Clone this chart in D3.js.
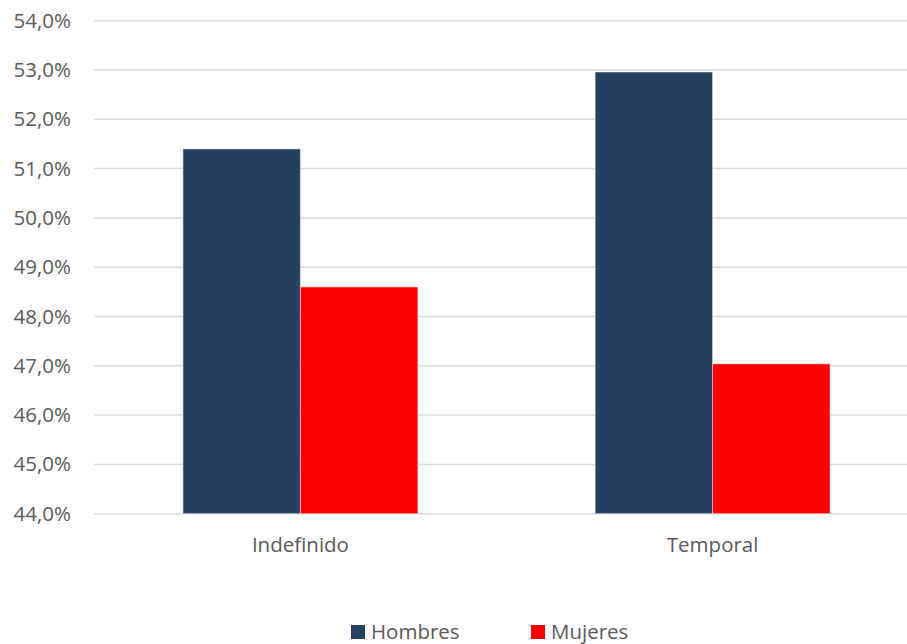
<!DOCTYPE html>
<html>
<head>
<meta charset="utf-8">
<script src="https://cdn.jsdelivr.net/npm/d3@7"></script>
<style>
  html, body { margin: 0; padding: 0; background: #fff; }
  svg { display: block; }
  text { font-family: "Open Sans", sans-serif; fill: #595959; }
</style>
</head>
<body>
<svg id="chart" width="907" height="644"></svg>
<script>
const categories = ["Indefinido", "Temporal"];
const seriesNames = ["Hombres", "Mujeres"];
const hombres = [0.514, 0.5296];
const mujeres = [0.486, 0.4704];
const yTicks = [0.44, 0.45, 0.46, 0.47, 0.48, 0.49, 0.50, 0.51, 0.52, 0.53, 0.54];
const colors = ["#264061", "#FF0000"];

const svg = d3.select("#chart");
const W = 907, H = 644;
const plotLeft = 94.3, plotRight = 918.7, plotTop = 20.7, plotBottom = 513.7;
const fontSize = "20.5px";

const x = d3.scaleBand().domain(categories).range([plotLeft, plotRight])
  .paddingInner(0.43).paddingOuter(0.215);
const xs = d3.scaleBand().domain(seriesNames).range([0, x.bandwidth()]);
const y = d3.scaleLinear().domain([0.44, 0.54]).range([plotBottom, plotTop]);
const fmt = v => d3.format(".1f")(v * 100).replace(".", ",") + "%";

// gridlines
svg.append("g").selectAll("line").data(yTicks).join("line")
  .attr("x1", plotLeft).attr("x2", W)
  .attr("y1", d => y(d)).attr("y2", d => y(d))
  .attr("stroke", "#d9d9d9").attr("stroke-width", 1.5);

// y axis labels
const yAxis = d3.axisLeft(y).tickValues(yTicks).tickFormat(fmt).tickSize(0).tickPadding(0);
const yg = svg.append("g").attr("transform", `translate(71,0)`).call(yAxis);
yg.select(".domain").remove();
yg.selectAll("text").style("font-size", fontSize).attr("fill", "#595959")
  .style("font-family", "'Open Sans', sans-serif");

// bars
const data = categories.map((c, i) => ({ cat: c, vals: [hombres[i], mujeres[i]] }));
const groups = svg.append("g").selectAll("g").data(data).join("g")
  .attr("transform", d => `translate(${x(d.cat)},0)`);
groups.selectAll("rect").data(d => d.vals.map((v, j) => ({ s: seriesNames[j], v, j })))
  .join("rect")
  .attr("x", d => xs(d.s))
  .attr("width", xs.bandwidth())
  .attr("y", d => y(d.v))
  .attr("height", d => plotBottom - y(d.v))
  .attr("fill", d => colors[d.j])
  .attr("stroke", "rgba(255,255,255,0.5)")
  .attr("stroke-width", 1);

// x axis labels
const xAxis = d3.axisBottom(x).tickSize(0).tickPadding(0);
const xg = svg.append("g").attr("transform", `translate(0,${plotBottom + 24})`).call(xAxis);
xg.select(".domain").remove();
xg.selectAll("text").style("font-size", fontSize).attr("fill", "#595959")
  .style("font-family", "'Open Sans', sans-serif");

// legend
const legendX = [351, 531];
const leg = svg.append("g").selectAll("g").data(seriesNames).join("g")
  .attr("transform", (d, i) => `translate(${legendX[i]},625)`);
leg.append("rect").attr("width", 14).attr("height", 14).attr("fill", (d, i) => colors[i]);
leg.append("text").attr("x", 20).attr("y", 14).attr("font-size", fontSize).text(d => d);
</script>
</body>
</html>
